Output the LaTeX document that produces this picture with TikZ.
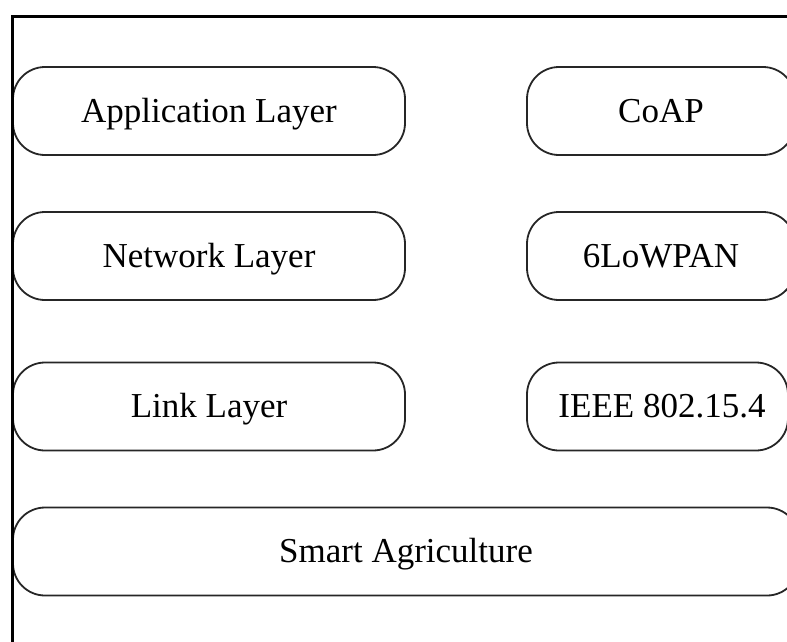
\documentclass[tikz,border=0pt]{standalone}
\usepackage{fontspec}
\setmainfont{Liberation Serif}
\begin{document}
\begin{tikzpicture}[x=1pt,y=-1pt,
  layerbox/.style={draw=black!85, line width=1.8pt, rounded corners=32pt,
    minimum height=88pt, inner sep=0pt, text height=30pt, text depth=8pt,
    font=\fontsize{35}{42}\selectfont},
  frame/.style={draw=black, line width=3pt}]
  \useasboundingbox (0,0) rectangle (787,641);
  \clip (0,0) rectangle (787,641);
  % protocol stack, left column
  \node[layerbox, minimum width=392pt] (app) at (209,111) {Application Layer};
  \node[layerbox, minimum width=392pt] (net) at (209,256) {Network Layer};
  \node[layerbox, minimum width=392pt] (link) at (209,406.5) {Link Layer};
  % protocols, right column
  \node[layerbox, minimum width=268pt] (coap) at (661,111) {CoAP};
  \node[layerbox, minimum width=268pt] (lowpan) at (661,256) {6LoWPAN};
  \node[layerbox, minimum width=261pt] (ieee) at (657.5,406.5) {\hspace*{9pt}IEEE 802.15.4};
  % application domain
  \node[layerbox, minimum width=786pt] (agri) at (406,551.5) {Smart Agriculture};
  % outer frame
  \coordinate (fb) at (12.5,660);
  \coordinate (ftl) at (12.5,16);
  \coordinate (fr) at (800,16);
  \draw[frame] (fb) -- (ftl) -- (fr);
\end{tikzpicture}
\end{document}
